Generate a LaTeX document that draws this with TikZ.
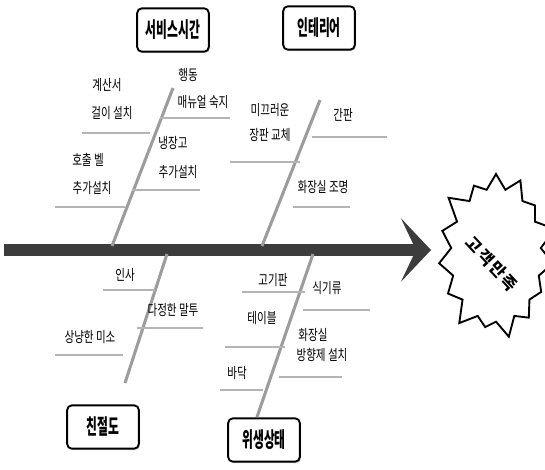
\documentclass[tikz,border=0pt]{standalone}
\usepackage{fontspec}
\newfontfamily\kr[FakeStretch=0.72]{Noto Sans CJK KR}
\newfontfamily\krbox[FakeStretch=0.56]{Noto Sans CJK KR}
\newfontfamily\krgoal[LetterSpace=12]{Noto Sans CJK KR}
\usetikzlibrary{shapes.symbols,arrows.meta,positioning,shadows}
\definecolor{BoneGray}{HTML}{9C9C9C}
\definecolor{TwigGray}{HTML}{B4B4B4}
\definecolor{SpineDark}{HTML}{3C3C3C}
\tikzset{
  % category box
  CB/.style={rectangle,rounded corners=4pt,draw=black,line width=1.6pt,fill=white,
             minimum width=2.15cm,minimum height=1.3cm,inner sep=2pt,
             drop shadow={shadow xshift=1pt,shadow yshift=-1.2pt,fill=gray!70},
             font=\krbox\bfseries\fontsize{18}{20}\selectfont},
  % cause label
  LB/.style={inner sep=1pt,font=\kr\fontsize{12.5}{15}\selectfont},
  % spine arrow
  spine/.style={line width=10pt,draw=SpineDark,
                -{Stealth[length=0.9cm,width=1.9cm,inset=0.45cm]}},
  % main bone and small twig
  bone/.style={line width=2.6pt,draw=BoneGray},
  twig/.style={line width=2pt,draw=TwigGray},
  % goal burst
  GB/.style={starburst,starburst points=15,starburst point height=0.6cm,
             draw=black,line width=1.6pt,fill=white,
             minimum width=3.9cm,minimum height=5.2cm}
}
\begin{document}
\begin{tikzpicture}[x=0.03cm,y=-0.03cm]
  \useasboundingbox (0,0) rectangle (545,469);
  % categories
  \node[CB] (svc)  at (173,30)  {서비스시간};
  \node[CB] (intr) at (319,28)  {인테리어};
  \node[CB] (kind) at (103,427) {친절도};
  \node[CB] (hyg)  at (264,440) {위생상태};
  % goal
  \pgfmathsetseed{7}
  \node[GB] (goal) at (496,255) {};
  \node[font=\krgoal\bfseries\fontsize{14}{16}\selectfont,rotate=-47,inner sep=0pt] (goaltxt) at (492,264) {고객만족};
  % spine
  \coordinate (tail) at (4,250);
  \coordinate (head) at (431,250);
  \draw[spine] (tail) -- (head);
  % bones
  \coordinate (svcT) at (173,88);   \coordinate (svcB) at (112,246);
  \coordinate (intT) at (320,100);  \coordinate (intB) at (262,246);
  \coordinate (kinT) at (167,254);  \coordinate (kinB) at (125,383);
  \coordinate (hygT) at (313,254);  \coordinate (hygB) at (257,417);
  \draw[bone] (svcT) -- (svcB);
  \draw[bone] (intT) -- (intB);
  \draw[bone] (kinT) -- (kinB);
  \draw[bone] (hygT) -- (hygB);
  % twigs
  \draw[twig] (82,133) -- (150,133);
  \draw[twig] (55,207) -- (125,207);
  \draw[twig] (160,118) -- (230,118);
  \draw[twig] (132,190) -- (200,190);
  \draw[twig] (230,162) -- (300,162);
  \draw[twig] (312,137) -- (387,137);
  \draw[twig] (293,207) -- (350,207);
  \draw[twig] (103,290) -- (155,290);
  \draw[twig] (137,328) -- (203,328);
  \draw[twig] (55,355) -- (123,355);
  \draw[twig] (242,292) -- (305,292);
  \draw[twig] (303,310) -- (370,310);
  \draw[twig] (225,347) -- (285,347);
  \draw[twig] (279,377) -- (342,377);
  \draw[twig] (220,390) -- (263,390);
  % labels
  \node[LB] (bill)  at (107,85)  {계산서};
  \node[LB] (bill2) at (112,113) {걸이 설치};
  \node[LB] (bell)  at (88,160)  {호출 벨};
  \node[LB] (bell2) at (92,188)  {추가설치};
  \node[LB] (act)   at (188,75)  {행동};
  \node[LB] (act2)  at (203,102) {매뉴얼 숙지};
  \node[LB] (frig)  at (173,143) {냉장고};
  \node[LB] (frig2) at (178,172) {추가설치};
  \node[LB] (flr)   at (270,110) {미끄러운};
  \node[LB] (flr2)  at (270,135) {장판 교체};
  \node[LB] (sign)  at (343,115) {간판};
  \node[LB] (light) at (323,187) {화장실 조명};
  \node[LB] (greet) at (125,275) {인사};
  \node[LB] (talk)  at (173,310) {다정한 말투};
  \node[LB] (smile) at (90,337)  {상냥한 미소};
  \node[LB] (grill) at (273,280) {고기판};
  \node[LB] (dish)  at (327,288) {식기류};
  \node[LB] (table) at (262,318) {테이블};
  \node[LB] (wc)    at (313,335) {화장실};
  \node[LB] (wc2)   at (322,355) {방향제 설치};
  \node[LB] (floor) at (237,373) {바닥};
\end{tikzpicture}
\end{document}
